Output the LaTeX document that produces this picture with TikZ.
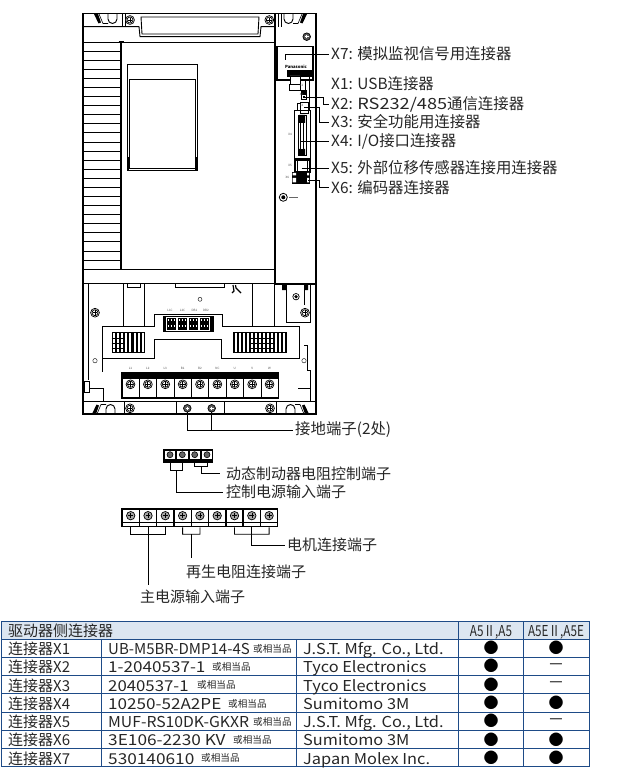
\documentclass[tikz,border=0pt]{standalone}
\usepackage{fontspec}
\usepackage{graphicx}
\setmainfont{Noto Sans CJK SC}
\definecolor{gridblue}{RGB}{30,75,135}
\definecolor{headfill}{RGB}{220,230,241}
\tikzset{
	lbl/.style={anchor=west, inner sep=2pt, font=\fontsize{15.4}{15.4}\selectfont, text=black!85},
	lowlbl/.style={lbl, font=\fontsize{15}{15}\selectfont},
	tag/.style={inner sep=0pt, font=\fontsize{3}{3}\selectfont, text=black!70},
	cell/.style={anchor=west, inner sep=0pt, text height=13pt, text depth=0pt, font=\fontsize{15}{15}\selectfont, text=black!85},
	smalltxt/.style={anchor=west, inner sep=0pt, text height=7pt, text depth=1.5pt, font=\fontsize{9.6}{9.6}\selectfont, text=black!85},
	dotmark/.style={inner sep=0pt, font=\fontsize{15}{15}\selectfont},
	lead/.style={line width=0.8pt},
	body/.style={line width=0.9pt},
	screwhead/.pic={
		\draw[line width=0.7pt, fill=white] (0,0) circle (4.4);
		\draw[line width=0.7pt] (0,0) circle (3);
		\draw[line width=0.8pt] (-2.4,0) -- (2.4,0) (0,-2.4) -- (0,2.4);
	},
	darkscrew/.pic={
		\draw[line width=0.7pt, fill=black!65] (0,0) circle (3.8);
		\draw[white, line width=0.5pt] (-1.8,0) -- (1.8,0) (0,-1.8) -- (0,1.8);
	},
	slotleft/.pic={
		\draw[line width=0.9pt] (6,-5) -- (6,0) arc [start angle=180, end angle=0, radius=4.5] -- (15,-5);
		\fill (-8,-5) -- (-4,-5) -- (-1,3.5) -- (-3.5,4.5) -- cycle;
		\draw[line width=0.6pt] (-3,-5) -- (1,4.5) -- (6,4.5);
	}
}
\begin{document}
\begin{tikzpicture}[x=1pt, y=-1pt]
	\useasboundingbox (0,0) rectangle (637,775);

	% housing
	\draw[body, line width=1.2pt] (83,13.5) rectangle (316,414);
	\draw[body] (83,26.7) -- (139,26.7) -- (140,36.7) -- (260,36.7) -- (261,26.7) -- (275,26.7);
	\draw[body] (141,17) -- (142,34) -- (258,34) -- (259,17) -- cycle;
	\draw[body] (121,42) -- (275,42);
	\draw[line width=0.8pt] (118.5,41) -- (123.5,41);
	\draw[body, line width=1.2pt] (121,42) -- (121,269);
	\foreach \k in {0,...,25}
		\draw[line width=0.6pt] (83,42+\k*9.08) -- (121,42+\k*9.08);
	\draw[body] (83,269) -- (275,269);
	\draw[body] (83,283.5) -- (275,283.5);
	\draw[body, line width=1.2pt] (275,13.5) -- (275,284) -- (316,284);

	% window
	\draw[line width=1.4pt] (127.3,64.3) rectangle (197.3,170.7);
	\draw[line width=0.6pt] (129.3,79.3) rectangle (195.7,168.3);
	\fill (127.3,156.7) rectangle (129.3,170.7);
	\fill (195.3,156.7) rectangle (197.3,170.7);

	% top edge
	\draw (122,13.5) -- (122,26.7) (124.7,13.5) -- (124.7,26.7);
	\draw (278,13.5) -- (278,26.7) (280.7,13.5) -- (280.7,26.7);
	\pic at (130,20) {screwhead};
	\pic at (269.3,20) {screwhead};
	\pic at (102,19) {slotleft};
	\pic[xscale=-1] at (299,19) {slotleft};
	\pic at (306.7,36.7) {darkscrew};

	% connectors on the panel
	\draw[line width=1.6pt] (277,46.7) rectangle (313,80);
	\node[inner sep=0pt, font=\bfseries\fontsize{4.2}{4.2}\selectfont] (maker) at (296,66.7) {Panasonic};
	\fill (287,70) rectangle (311.7,76.7);
	\draw[line width=0.9pt, fill=white] (290,76) rectangle (300,84) (289,84) rectangle (300,90);
	\fill (300.7,90) rectangle (306.7,100);
	\draw[white, line width=0.5pt] (302,95) rectangle (305.5,98);
	\draw (305,80) -- (305,90) (309,76.7) -- (309,110);
	\draw[line width=0.9pt] (300,102) rectangle (308,113);
	\draw (297,103) rectangle (300,110);
	\draw[line width=0.9pt] (294,110) rectangle (310.7,158);
	\draw[line width=0.8pt] (298,115) rectangle (306,155);
	\fill (299,115) rectangle (305,123) (299,149) rectangle (305,156);
	\draw[line width=1.1pt, fill=white] (300.7,122) rectangle (303.7,150);
	\draw[line width=1.2pt] (295,160) rectangle (310,172);
	\draw[line width=0.9pt] (297,160) -- (297,172) (307.5,160) -- (307.5,172);
	\fill (291.7,171.7) rectangle (310,184);
	\fill[white] (292.7,173) rectangle (296,175.5) (292.7,178) rectangle (296,182.5) (307,173) rectangle (309,175.5) (307,178) rectangle (309,182.5);
	\draw[line width=0.8pt] (283.3,197.3) circle (4);
	\fill (283.3,197.3) circle (2);
	\draw[black!60, line width=0.6pt] (289,197.3) -- (298,197.3);
	\node[tag] (t1) at (301.5,85) {X1};
	\node[tag] (t2) at (301.5,94.5) {X2};
	\node[tag] (t3) at (301.5,105) {X3};
	\node[tag] (t4) at (290,134) {X4};
	\node[tag] (t5) at (290,165.7) {X5};
	\node[tag] (t6) at (287.3,177.7) {X6};

	% labels and leaders of the panel
	\node[lbl] (X7) at (329,54) {X7: 模拟监视信号用连接器};
	\node[lbl] (X1) at (329,84) {X1: USB连接器};
	\node[lbl] (X2) at (329,104.5) {X2: \scalebox{1.18}[1]{RS232/485}通信连接器};
	\node[lbl] (X3) at (329,122) {X3: 安全功能用连接器};
	\node[lbl] (X4) at (329,141.7) {X4: I/O接口连接器};
	\node[lbl] (X5) at (329,168) {X5: 外部位移传感器连接用连接器};
	\node[lbl] (X6) at (329,187.5) {X6: 编码器连接器};
	\coordinate (p7) at (285,60);
	\coordinate (p2) at (305,97);
	\coordinate (p3) at (304,107.3);
	\coordinate (p4) at (300,141.7);
	\coordinate (p5) at (301.7,168);
	\coordinate (p6) at (308,180);
	\draw[lead] (p7) |- (X7.west);
	\draw[lead] (p2) -| (323.3,104.5) -- (X2.west);
	\draw[lead] (p3) -| (319,122) -- (X3.west);
	\draw[lead] (p4) -- (X4.west);
	\draw[lead] (p5) -- (X5.west);
	\draw[lead] (p6) -| (319.3,187.5) -- (X6.west);

	% lower part
	\draw[body] (88,284) -- (88,380);
	\draw[body] (123.3,284) -- (123.3,326.7) (144,284) -- (144,326.7);
	\draw[body] (252.7,284) -- (252.7,326.7) (274,284) -- (274,326.7);
	\draw (127,284) -- (127,287) -- (140,287) -- (140,284);
	\draw (175,284) -- (175,286.7) -- (224,286.7) -- (224,284);
	\draw[body] (102.7,371.7) -- (102.7,326.7) -- (154,326.7) -- (154,314) -- (222.7,314) -- (222.7,326.7) -- (299.3,326.7) -- (299.3,358.3) -- (221.7,358.3) -- (221.7,339.3) -- (154,339.3) -- (154,358.3) -- (102.7,358.3);
	\draw (200,299.3) circle (2);
	\draw[line width=1.2pt] (233,285) -- (234,291) -- (232,293) (235.5,285) -- (236,288) -- (241,293);
	\pic at (95,312.7) {screwhead};
	\pic at (305,312.7) {screwhead};
	\draw (286.5,284) -- (286.5,322) -- (311,322) (304,284) -- (304,305) (310,284) -- (310,322);
	\draw[line width=0.7pt] (296,296.7) circle (3.2);
	\fill (296,296.7) circle (1.8);
	\fill (282,285) rectangle (286,290) (304,285) rectangle (308,290);
	\draw (95,360.7) circle (2.2);
	\draw (304,360.7) circle (2.2);
	\draw (84,381) rectangle (89,392) (89,388) -- (103,388) -- (103,401);
	\draw (298,388) -- (310,388) -- (310,370) -- (307,370) -- (307,345) -- (304,345) (310,388) -- (310,401);

	% control terminal in the drawing
	\fill (163.3,316) rectangle (214.3,331.7);
	\foreach \xc in {166,177,188,199}{
		\draw[white, line width=0.5pt] (\xc,317.5) rectangle (\xc+10,330);
		\foreach \yc in {320,326}
			\draw[white, line width=1.2pt, dash pattern=on 1.5pt off 1.5pt] (\xc+1.5,\yc) -- (\xc+9,\yc);
	}
	\node[tag] (c1) at (170,310) {L1C};
	\node[tag] (c2) at (182.5,310) {L2C};
	\node[tag] (c3) at (194.5,310) {DB1};
	\node[tag] (c4) at (206,310) {DB2};

	% signal blocks
	\fill (111.7,332.3) rectangle (145,353.3);
	\foreach \k in {0,...,7}
		\fill[white] (113+\k*4.1,333.3) rectangle (115+\k*4.1,352.3);
	\fill (233.3,332.3) rectangle (286.7,353.3);
	\foreach \k in {0,...,12}
		\fill[white] (234.6+\k*4.05,333.3) rectangle (236.6+\k*4.05,352.3);
	\foreach \yc in {338,343,348}
		\draw[line width=0.5pt] (111.7,\yc) -- (125,\yc) (250,\yc) -- (275,\yc);

	% main terminal in the drawing
	\fill (120.7,371.7) rectangle (279.3,399);
	\foreach \k in {0,...,8}{
		\fill[white] (122.5+\k*17.38,378.5) rectangle (138.9+\k*17.38,397);
		\pic at (130.5+\k*17.38,384.3) {screwhead};
	}
	\foreach \k/\txt in {0/L1,1/L2,2/L3,3/B1,4/B2,5/NC,6/U,7/V,8/W}
		\node[tag] (u\k) at (130.5+\k*17.38,368.7) {\txt};

	% bottom strip
	\draw[body] (83,401) -- (316,401);
	\draw[body] (176.7,401) -- (176.7,414) (224,401) -- (224,414);
	\draw (124,401) -- (124,414) (276,401) -- (276,414);
	\pic at (130,408.3) {screwhead};
	\pic at (270,408.3) {screwhead};
	\pic at (187.3,408.3) {darkscrew};
	\pic at (211.7,408.3) {darkscrew};
	\pic[yscale=-1] at (100,409) {slotleft};
	\pic[xscale=-1, yscale=-1] at (301,409) {slotleft};

	% earth terminal
	\node[lowlbl, font=\fontsize{15.4}{15.4}\selectfont] (gnd) at (293,430) {接地端子(2处)};
	\coordinate (g1) at (187.3,412);
	\coordinate (g2) at (211.7,412);
	\draw[lead] (g1) |- (gnd.west);
	\draw[lead] (g2) -- (211.7,430);

	% small terminal block
	\fill (163.3,449.3) rectangle (213.3,462.7);
	\foreach \xc/\nm in {170/a,182.3/b,194.7/c,207/d}{
		\fill[white] (\xc-5.2,451) rectangle (\xc+5.2,458.5);
		\draw[line width=0.6pt, fill=black!60] (\xc,454.7) circle (3);
		\coordinate (s\nm) at (\xc,462.7);
	}
	\node[lowlbl, inner xsep=6pt] (dbr) at (220,473.3) {动态制动器电阻控制端子};
	\node[lowlbl, inner xsep=3.3pt] (ctl) at (222.7,492) {控制电源输入端子};
	\draw[lead] (sa) -- (170,470.7) -- (182.3,470.7) -- (sb);
	\draw[lead] (176.2,470.7) |- (ctl.west);
	\draw[lead] (sc) -- (194.7,466.7) -- (207,466.7) -- (sd);
	\draw[lead] (201,466.7) |- (dbr.west);

	% main terminal block
	\fill (121,508.3) rectangle (278.3,527.3);
	\foreach \k in {0,...,8}{
		\fill[white] (122.8+\k*17.3,509.8) rectangle (138.6+\k*17.3,525.8);
		\draw[line width=0.6pt] (122.8+\k*17.3,522) -- (138.6+\k*17.3,522);
		\draw[line width=0.7pt, fill=black!35] (130.7+\k*17.3,515.7) circle (4.2);
		\draw[line width=0.6pt] (128.3+\k*17.3,515.7) -- (133.1+\k*17.3,515.7) (130.7+\k*17.3,513.3) -- (130.7+\k*17.3,518.1);
		\coordinate (m\k) at (130.7+\k*17.3,527.3);
	}
	\node[lowlbl] (mot) at (285,545) {电机连接端子};
	\node[lowlbl, anchor=center] (reg) at (246,571.7) {再生电阻连接端子};
	\node[lowlbl, anchor=center] (inp) at (192.5,596.5) {主电源输入端子};
	\draw[lead] (m0) -- (130.7,534.3) -- (165.3,534.3) -- (m2);
	\draw[lead] (m1) -- (148,534.3);
	\draw[lead] (148,527.3) -- (148,585);
	\draw[lead] (m3) -- (182.6,534.3) -- (199.9,534.3) -- (m4);
	\draw[lead] (191.3,534.3) -- (191.3,558.3);
	\draw[lead] (m6) -- (234.5,534.3) -- (269.1,534.3) -- (m8);
	\draw[lead] (m7) |- (mot.west);

	% table
	\fill[headfill] (1,621) rectangle (589,639.3);
	\draw[gridblue, line width=0.9pt] (1,621) rectangle (589,766.7);
	\foreach \yl in {639.3,657,675.3,693.7,712,730.3,748.3}
		\draw[gridblue, line width=0.8pt] (1,\yl) -- (589,\yl);
	\draw[gridblue, line width=0.8pt] (101.3,639.3) -- (101.3,766.7) (296.3,639.3) -- (296.3,766.7);
	\draw[gridblue, line width=0.8pt] (458.7,621) -- (458.7,766.7) (523.3,621) -- (523.3,766.7);
	\node[cell] (h0) at (8,630.2) {驱动器侧连接器};
	\node[cell, anchor=center] (h1) at (491,630.2) {\scalebox{.78}[1]{A5Ⅱ,A5}};
	\node[cell, anchor=center] (h2) at (556,630.2) {\scalebox{.78}[1]{A5EⅡ,A5E}};
	\foreach \i/\yy/\model/\sw/\sx/\firm in {
		1/648.2/UB-M5BR-DMP14-4S/1.0/253/{J.S.T. Mfg. Co., Ltd.},
		2/666.2/1-2040537-1/1.14/212/Tyco Electronics,
		3/684.5/2040537-1/1.12/197/Tyco Electronics,
		4/702.9/10250-52A2PE/1.14/228/Sumitomo 3M,
		5/721.2/MUF-RS10DK-GKXR/1.05/253/{J.S.T. Mfg. Co., Ltd.},
		6/739.3/3E106-2230 KV/1.15/233/Sumitomo 3M,
		7/757.5/530140610/1.15/201/Japan Molex Inc.}{
		\node[cell] (n\i) at (8,\yy) {连接器X\i};
		\node[cell] (t\i) at (108,\yy) {\scalebox{\sw}[1]{\model}};
		\node[smalltxt] (r\i) at (\sx,\yy+1.5) {或相当品};
		\node[cell] (f\i) at (303,\yy) {\scalebox{1.09}[1]{\firm}};
		\node[dotmark] (a\i) at (491,\yy) {●};
	}
	\foreach \i/\yy/\sym in {1/648.2/●,2/666.2/—,3/684.5/—,4/702.9/●,5/721.2/—,6/739.3/●,7/757.5/●}
		\node[dotmark] (e\i) at (556,\yy) {\sym};
\end{tikzpicture}
\end{document}
